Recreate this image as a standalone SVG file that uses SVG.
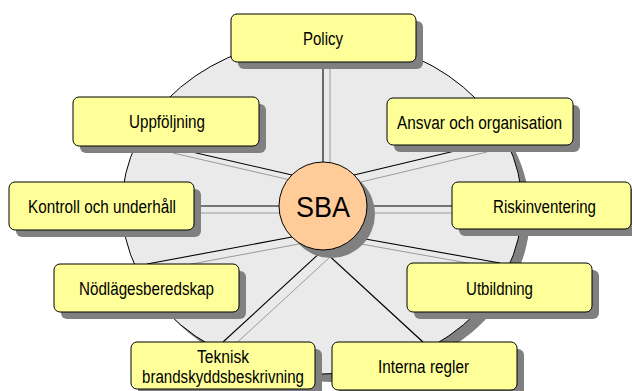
<svg xmlns="http://www.w3.org/2000/svg" width="632" height="391" viewBox="0 0 632 391">
<style>
.sh{fill:#808080;stroke:none}
.box{fill:#FFFF99;stroke:#000;stroke-width:1}
.t{font-family:"Liberation Sans",Arial,sans-serif;font-size:18px;fill:#000;text-anchor:middle}
.ln{stroke:#000;stroke-width:1.1;fill:none}
.lns{stroke:#9a9a9a;stroke-width:1;fill:none}
</style>
<rect width="632" height="391" fill="#fff"/>
<g id="ring">
<ellipse class="sh" cx="330" cy="214" rx="200" ry="168"/>
<ellipse cx="322" cy="206" rx="200" ry="168" fill="#eaeaea" stroke="#000" stroke-width="1"/>
</g>
<g id="connectors">
<g class="lns" transform="translate(7,7)">
<line x1="323" y1="162" x2="323" y2="62"/>
<line x1="292" y1="175" x2="166" y2="146"/>
<line x1="354" y1="175" x2="480" y2="145"/>
<line x1="367" y1="206" x2="452" y2="206"/>
<line x1="279" y1="206" x2="194" y2="206"/>
<line x1="292" y1="237" x2="147" y2="264"/>
<line x1="354" y1="237" x2="500" y2="263"/>
<line x1="323" y1="250" x2="223" y2="342"/>
<line x1="323" y1="250" x2="423" y2="342"/>
</g>
<g class="ln">
<line x1="323" y1="162" x2="323" y2="62"/>
<line x1="292" y1="175" x2="166" y2="146"/>
<line x1="354" y1="175" x2="480" y2="145"/>
<line x1="367" y1="206" x2="452" y2="206"/>
<line x1="279" y1="206" x2="194" y2="206"/>
<line x1="292" y1="237" x2="147" y2="264"/>
<line x1="354" y1="237" x2="500" y2="263"/>
<line x1="323" y1="250" x2="223" y2="342"/>
<line x1="323" y1="250" x2="423" y2="342"/>
</g>
</g>
<g id="policy">
<rect class="sh" x="238" y="21" width="185" height="48" rx="6"/>
<rect class="box" x="231" y="14" width="185" height="48" rx="6"/>
<text class="t" x="323" y="45" textLength="40" lengthAdjust="spacingAndGlyphs">Policy</text>
</g>
<g id="ansvar">
<rect class="sh" x="394" y="105" width="186" height="47" rx="6"/>
<rect class="box" x="387" y="98" width="186" height="47" rx="6"/>
<text class="t" x="479.5" y="129" textLength="165" lengthAdjust="spacingAndGlyphs">Ansvar och organisation</text>
</g>
<g id="riskinventering">
<rect class="sh" x="459" y="189" width="179" height="47" rx="6"/>
<rect class="box" x="452" y="182" width="179" height="47" rx="6"/>
<text class="t" x="544.5" y="213" textLength="103" lengthAdjust="spacingAndGlyphs">Riskinventering</text>
</g>
<g id="utbildning">
<rect class="sh" x="414" y="270" width="185" height="49" rx="6"/>
<rect class="box" x="407" y="263" width="185" height="49" rx="6"/>
<text class="t" x="499.5" y="295" textLength="67" lengthAdjust="spacingAndGlyphs">Utbildning</text>
</g>
<g id="interna">
<rect class="sh" x="339" y="349" width="185" height="48" rx="6"/>
<rect class="box" x="332" y="342" width="185" height="48" rx="6"/>
<text class="t" x="423.5" y="373" textLength="91" lengthAdjust="spacingAndGlyphs">Interna regler</text>
</g>
<g id="teknisk">
<rect class="sh" x="138" y="349" width="184" height="47" rx="6"/>
<rect class="box" x="131" y="342" width="184" height="47" rx="6"/>
<text class="t" x="223" y="363" textLength="52" lengthAdjust="spacingAndGlyphs">Teknisk</text>
<text class="t" x="223" y="383" textLength="162" lengthAdjust="spacingAndGlyphs">brandskyddsbeskrivning</text>
</g>
<g id="nodlage">
<rect class="sh" x="61" y="271" width="185" height="48" rx="6"/>
<rect class="box" x="54" y="264" width="185" height="48" rx="6"/>
<text class="t" x="146.5" y="295" textLength="135" lengthAdjust="spacingAndGlyphs">Nödlägesberedskap</text>
</g>
<g id="kontroll">
<rect class="sh" x="16" y="189" width="185" height="48" rx="6"/>
<rect class="box" x="9" y="182" width="185" height="48" rx="6"/>
<text class="t" x="102" y="213" textLength="148" lengthAdjust="spacingAndGlyphs">Kontroll och underhåll</text>
</g>
<g id="uppfoljning">
<rect class="sh" x="80" y="104" width="186" height="49" rx="6"/>
<rect class="box" x="73" y="97" width="186" height="49" rx="6"/>
<text class="t" x="167" y="128" textLength="76" lengthAdjust="spacingAndGlyphs">Uppföljning</text>
</g>
<g id="sba">
<circle class="sh" cx="331" cy="214" r="44"/>
<circle cx="323" cy="206" r="44" fill="#FFCC99" stroke="#000" stroke-width="1"/>
<text x="323" y="217" font-family="Liberation Sans,Arial,sans-serif" font-size="29" text-anchor="middle" textLength="54" lengthAdjust="spacingAndGlyphs">SBA</text>
</g>
</svg>
